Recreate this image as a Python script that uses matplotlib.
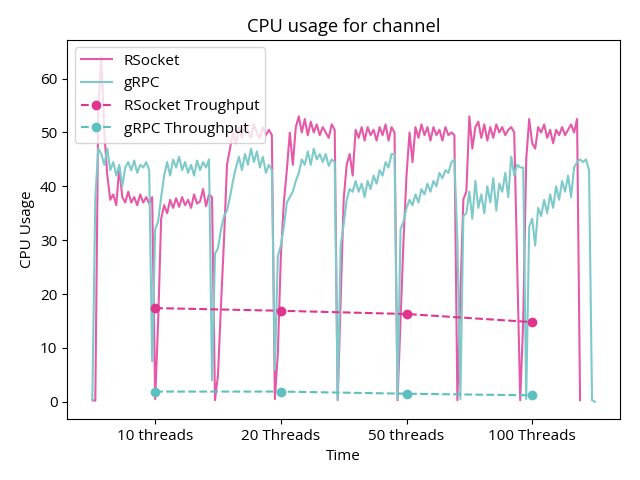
import numpy as np
import matplotlib.pyplot as plt

plt.rcParams['font.family'] = ['Open Sans', 'DejaVu Sans']
plt.rcParams['font.size'] = 11
plt.rcParams['axes.titlesize'] = 13.2
plt.rcParams['axes.labelsize'] = 11
plt.rcParams['xtick.labelsize'] = 11
plt.rcParams['ytick.labelsize'] = 11
plt.rcParams['legend.fontsize'] = 11

# CPU samples (one sample per time step)
rsocket_cpu = [0.3, 0.2, 55, 64, 50, 42, 37.5, 38.5, 36.5, 43.5,
               38, 37, 39, 37, 38, 36.5, 38.5, 37, 38, 36.8,
               38, 0.5, 15, 34, 36.5, 35, 37.5, 36, 37.8, 36.2,
               38, 36.5, 37.5, 36, 38.5, 36.8, 37.2, 39.5, 36.3, 38.5,
               38, 0.3, 5, 18, 30, 44, 47, 50, 48, 51,
               49, 52, 50, 49, 51.5, 50, 49, 51, 49.5, 50.5,
               49.5, 0.5, 9, 27, 37, 43, 50, 44, 51, 53,
               50, 52.5, 49.5, 52, 50, 51.5, 49.5, 51, 50, 49,
               51.5, 50.5, 0.3, 19, 37.6, 44, 46, 42, 50.5, 49,
               51, 48.5, 51, 49.5, 50.5, 48.5, 51, 49.5, 51.5, 48.5,
               51, 50, 0.3, 15, 30, 42, 50, 44.5, 51, 49,
               51.5, 49.5, 51, 48.5, 51, 49.5, 50.5, 48.5, 51, 49.5,
               50, 49.5, 0.3, 20, 37.6, 39, 53, 47, 51, 52,
               49, 51.5, 48.5, 51, 49, 51.5, 50, 51, 49.5, 50.5,
               51, 50, 25, 0.3, 15, 45, 52.5, 48, 47, 51,
               50, 51.5, 49, 50.5, 48, 50.5, 49.5, 51, 49.5, 50.5,
               51.5, 50, 52.5, 0.3]
grpc_cpu = [0.3, 38, 47, 46, 44, 47, 43, 44.5, 42, 44,
            40, 43.5, 44.5, 43, 44.8, 42.5, 44, 43.5, 44.5, 43,
            7.5, 32, 33.5, 38, 42, 44.5, 42, 45, 43.5, 45.5,
            43, 44.5, 42.5, 44, 42, 44.8, 43, 44.5, 43.5, 45,
            4, 27.5, 28.5, 32, 34.5, 35.5, 38, 41, 43.5, 45.5,
            43, 46, 44, 47, 44.5, 46.5, 43.5, 45.5, 42.5, 44,
            43, 6, 27, 29, 32.5, 37, 38, 39, 41, 42.5,
            45, 44, 46.5, 44, 47, 45, 46, 44.5, 46, 43.8,
            45, 44.5, 0.3, 29, 33, 37.5, 39.5, 39, 41, 39,
            40.5, 38, 41, 39.5, 42, 40.5, 43, 42, 44.5, 43.5,
            46, 46, 0.5, 32, 33.5, 36, 37.5, 36.5, 38.5, 37,
            39.5, 38.5, 40.5, 39, 41, 40, 42.5, 41.5, 43, 42.5,
            44.5, 45, 30, 0.5, 34.5, 35, 39, 34, 41, 36,
            38.5, 35, 40, 37, 41.5, 35.5, 40.5, 39, 42.5, 38,
            45.5, 42, 44, 43.5, 43.5, 0.5, 32.5, 34, 29, 36,
            34.5, 37.5, 35, 38.5, 36, 40, 37.5, 41, 39, 42,
            38, 43.5, 44.5, 45, 44.5, 45, 43, 0.3, 0]

# throughput per thread count
thread_labels = ['10 threads', '20 Threads', '50 threads', '100 Threads']
thread_pos = [21, 63, 105, 147]
rsocket_tp = [17.4, 16.9, 16.3, 14.8]
grpc_tp = [1.9, 1.9, 1.5, 1.2]

fig, ax = plt.subplots(figsize=(6.4, 4.8), dpi=100)
ax.plot(np.arange(len(rsocket_cpu)), rsocket_cpu, color='#e45aa8', lw=1.5, label='RSocket')
ax.plot(np.arange(len(grpc_cpu)), grpc_cpu, color='#7ecaca', lw=1.5, label='gRPC')
ax.plot(thread_pos, rsocket_tp, '--o', color='#e0348e', lw=1.5, ms=6, label='RSocket Troughput')
ax.plot(thread_pos, grpc_tp, '--o', color='#5dbfbf', lw=1.5, ms=6, label='gRPC Throughput')

ax.set_xticks(thread_pos)
ax.set_xticklabels(thread_labels)
ax.set_xlabel('Time')
ax.set_ylabel('CPU Usage')
ax.set_title('CPU usage for channel')
ax.legend(loc='upper left')

fig.subplots_adjust(left=0.105, right=0.969, top=0.917, bottom=0.127)
plt.savefig('out.png')
